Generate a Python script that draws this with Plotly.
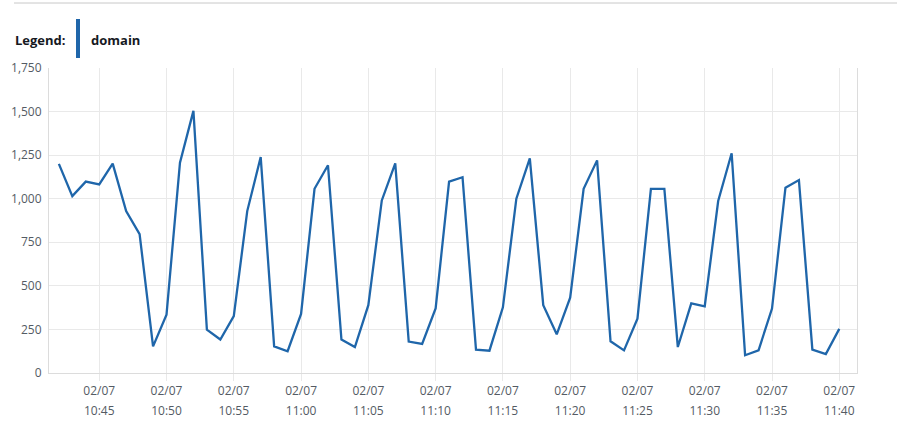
import pandas as pd
import plotly.graph_objects as go

# ---- data ----
start_time = "2024-02-07 10:42"
values = [1200, 1015, 1098, 1082, 1201, 929, 797, 153, 335, 1207,
          1504, 249, 192, 326, 929, 1239, 153, 125, 339, 1057,
          1192, 192, 149, 389, 990, 1203, 180, 167, 370, 1098,
          1123, 134, 128, 377, 1000, 1232, 389, 222, 432, 1057,
          1220, 182, 130, 312, 1057, 1057, 149, 400, 383, 987,
          1261, 102, 130, 370, 1063, 1107, 134, 109, 253]
times = pd.date_range(start_time, periods=len(values), freq="1min")
series_name = "domain"

tick_times = ["10:45", "10:50", "10:55", "11:00", "11:05", "11:10",
              "11:15", "11:20", "11:25", "11:30", "11:35", "11:40"]
tick_date = "02/07"
tick_vals = [pd.Timestamp("2024-02-07 " + t) for t in tick_times]
y_ticks = [0, 250, 500, 750, 1000, 1250, 1500, 1750]

x_range = [pd.Timestamp("2024-02-07 10:41:16"), pd.Timestamp("2024-02-07 11:41:19")]

LINE_COLOR = "#1f66aa"
GRID = "#e9e9e9"
TXT = "#545b64"
FONT = "Open Sans"

fig = go.Figure()
fig.add_trace(go.Scatter(x=times, y=values, mode="lines", name=series_name,
                         line=dict(color=LINE_COLOR, width=2.3), showlegend=False))

fig.update_layout(
    width=897, height=445,
    margin=dict(l=49, r=40, t=68, b=72, autoexpand=False),
    paper_bgcolor="white", plot_bgcolor="white",
    font=dict(family=FONT, size=12, color=TXT),
    xaxis=dict(range=x_range, tickvals=tick_vals, ticktext=[tick_date] * len(tick_vals),
               showgrid=True, gridcolor=GRID, showline=True, linecolor="#dcdcdc",
               ticks="outside", ticklen=7, tickcolor=GRID, automargin=False,
               tickfont=dict(size=12, color=TXT), zeroline=False),
    xaxis2=dict(range=x_range, overlaying="x", side="bottom", anchor="y",
                tickvals=tick_vals, ticktext=tick_times, showgrid=False,
                showline=False, ticks="", ticklabelstandoff=29, automargin=False,
                tickfont=dict(size=12, color=TXT), zeroline=False),
    yaxis=dict(range=[0, 1750], tickvals=y_ticks, tickformat=",",
               showgrid=True, gridcolor=GRID, showline=True, linecolor="#dcdcdc",
               mirror=True, zeroline=False, ticks="", ticklabelstandoff=4,
               automargin=False, tickfont=dict(size=12, color=TXT)),
)

# invisible trace to bind xaxis2
fig.add_trace(go.Scatter(x=[times[0]], y=[values[0]], xaxis="x2", yaxis="y",
                         mode="markers", marker=dict(opacity=0), showlegend=False,
                         hoverinfo="skip"))

# header line and legend
fig.add_shape(type="line", xref="paper", yref="paper",
              x0=(14 - 49) / 808, x1=(897 - 49) / 808, y0=(373 - 3) / 305,
              y1=(373 - 3) / 305, line=dict(color="#c8c8c8", width=1))
fig.add_shape(type="rect", xref="paper", yref="paper",
              x0=(76 - 49) / 808, x1=(80 - 49) / 808,
              y0=(373 - 58) / 305, y1=(373 - 19) / 305,
              fillcolor=LINE_COLOR, line=dict(width=0))
fig.add_annotation(xref="paper", yref="paper", x=(13 - 49) / 808, y=(373 - 40) / 305,
                   xanchor="left", yanchor="middle", showarrow=False,
                   text="<b>Legend:</b>", font=dict(size=13, color="#16191f", family=FONT))
fig.add_annotation(xref="paper", yref="paper", x=(89 - 49) / 808, y=(373 - 40) / 305,
                   xanchor="left", yanchor="middle", showarrow=False,
                   text="<b>" + series_name + "</b>", font=dict(size=13, color="#16191f", family=FONT))

fig.write_html("out.html", config={"displayModeBar": False},
               post_script="document.body.style.margin='0';")
